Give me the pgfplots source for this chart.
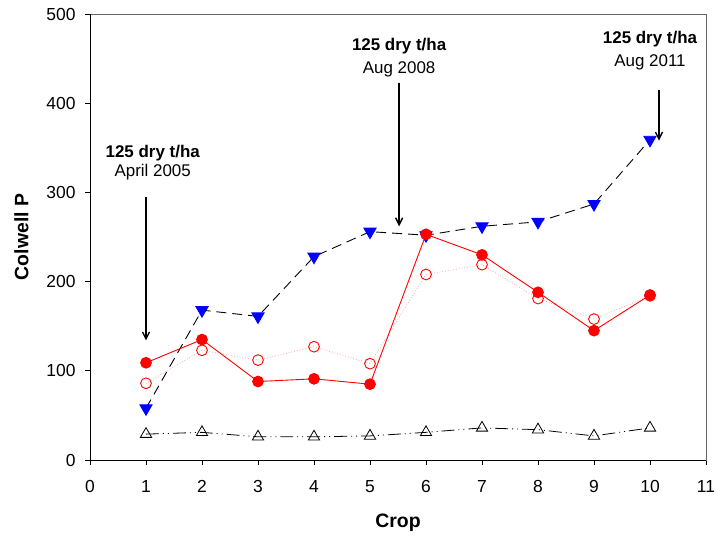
\documentclass[border=0pt]{standalone}
\usepackage{fontspec}
\setmainfont{Liberation Sans}
\usepackage{pgfplots}
\pgfplotsset{compat=1.18}
\usetikzlibrary{arrows.meta}
\begin{document}
\begin{tikzpicture}
\begin{axis}[
  scale only axis, width=616bp, height=446bp,
  xmin=0, xmax=11, ymin=0, ymax=500,
  xtick={0,...,11}, ytick={0,100,...,500},
  tick align=outside, tick pos=left, major tick length=5bp,
  tick style={black, line width=0.8pt},
  axis line style={draw=gray!80!black, line width=0.9pt},
  /pgf/number format/assume math mode=true,
  ticklabel style={font=\fontsize{17.5}{20}\selectfont},
  xticklabel style={yshift=-12bp},
  yticklabel style={xshift=-6bp},
  xlabel={\textbf{Crop}}, ylabel={\textbf{Colwell P}},
  label style={font=\fontsize{19.5}{22}\selectfont},
  xlabel style={yshift=-14bp},
  ylabel style={yshift=11bp},
  clip=false,
]
\draw[black, line width=0.9pt] (rel axis cs:0,1) -- (rel axis cs:0,0) -- (rel axis cs:1,0);
% black open triangles
\addplot[black, line width=0.8pt, dash pattern=on 13pt off 4pt on 1pt off 4pt on 1pt off 4pt,
  mark=triangle, mark size=6.5bp, mark options={solid, fill=white, line width=0.8pt}]
  coordinates {(1,29) (2,31) (3,26) (4,26) (5,27) (6,31) (7,36) (8,34) (9,27) (10,36)};
% blue triangles down
\addplot[black, line width=0.9pt, dash pattern=on 10pt off 6pt,
  mark=triangle*, mark size=7bp, mark options={solid, rotate=180, fill=blue, draw=blue}]
  coordinates {(1,58) (2,168) (3,161) (4,228) (5,256) (6,252) (7,262) (8,267) (9,287) (10,359)};
% red open circles dotted
\addplot[red!35, line width=0.8pt, dotted,
  mark=o, mark size=5.4bp, mark options={solid, draw=red, line width=0.9pt, fill=white}]
  coordinates {(1,86) (2,123) (3,112) (4,127) (5,108) (6,208) (7,219) (8,181) (9,158) (10,184)};
% red filled circles solid
\addplot[red, line width=0.9pt,
  mark=*, mark size=5.4bp, mark options={solid, fill=red, draw=red}]
  coordinates {(1,109) (2,135) (3,88) (4,91) (5,85) (6,253) (7,230) (8,188) (9,145) (10,185)};
% annotations
\draw[-{Straight Barb[length=7bp,width=7bp]}, line width=1.4pt] (axis cs:1,295) -- (axis cs:1,134);
\node[font=\fontsize{17}{20}\selectfont\bfseries] at (axis cs:1.12,344) {125 dry t/ha};
\node[font=\fontsize{17}{20}\selectfont] at (axis cs:1.12,323) {April 2005};
\draw[-{Straight Barb[length=7bp,width=7bp]}, line width=1.4pt] (axis cs:5.52,423) -- (axis cs:5.52,262);
\node[font=\fontsize{17}{20}\selectfont\bfseries] at (axis cs:5.52,464) {125 dry t/ha};
\node[font=\fontsize{17}{20}\selectfont] at (axis cs:5.52,438) {Aug 2008};
\draw[-{Straight Barb[length=7bp,width=7bp]}, line width=1.4pt] (axis cs:10.16,415) -- (axis cs:10.16,358);
\node[font=\fontsize{17}{20}\selectfont\bfseries] at (axis cs:10.0,472) {125 dry t/ha};
\node[font=\fontsize{17}{20}\selectfont] at (axis cs:10.0,446) {Aug 2011};
\end{axis}
\pgfresetboundingbox
\path (-90bp,-76bp) rectangle (627bp,460bp);
\end{tikzpicture}
\end{document}
